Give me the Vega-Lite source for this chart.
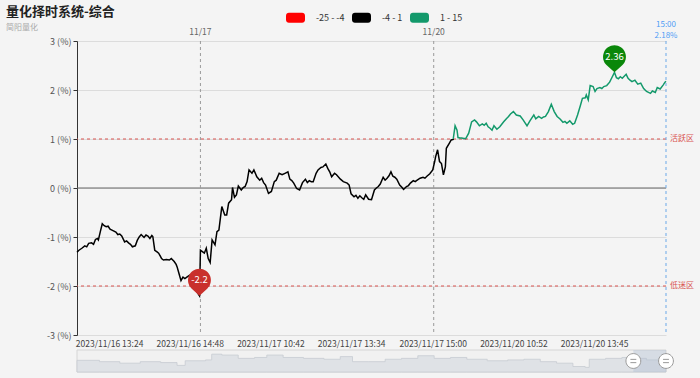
{
  "$schema": "https://vega.github.io/schema/vega-lite/v6.json",
  "width": 589,
  "height": 294,
  "autosize": {"type": "none"},
  "padding": {"left": 77, "top": 41, "right": 34, "bottom": 43},
  "background": "#f4f4f4",
  "title": {
    "text": "量化择时系统-综合",
    "subtitle": "简阳量化",
    "anchor": "start",
    "frame": "group",
    "dx": -71,
    "dy": 28,
    "fontSize": 13,
    "fontWeight": "bold",
    "color": "#222222",
    "subtitleFontSize": 8,
    "subtitleColor": "#aaaaaa",
    "subtitlePadding": 5,
    "offset": 4
  },
  "config": {
    "font": "Noto Sans CJK SC",
    "view": {"stroke": null},
    "legend": {
      "orient": "none",
      "legendX": 209,
      "legendY": -33,
      "direction": "horizontal",
      "symbolType": "M-0.7,-0.525 L0.7,-0.525 A0.3,0.3 0 0 1 1,-0.225 L1,0.225 A0.3,0.3 0 0 1 0.7,0.525 L-0.7,0.525 A0.3,0.3 0 0 1 -1,0.225 L-1,-0.225 A0.3,0.3 0 0 1 -0.7,-0.525 Z",
      "symbolSize": 361,
      "symbolStrokeWidth": 0,
      "symbolOpacity": 1,
      "labelFontSize": 9,
      "labelColor": "#333333",
      "labelOffset": 11,
      "columnPadding": 7,
      "padding": 0
    }
  },
  "layer": [
    {
      "layer": [
        {
          "data": {"values": [{"v": 1, "t": "活跃区"}, {"v": -2, "t": "低迷区"}]},
          "mark": {"type": "rule", "color": "#d9534f", "strokeDash": [3, 3], "strokeWidth": 1},
          "encoding": {
            "y": {"field": "v", "type": "quantitative", "scale": {"domain": [-3, 3], "nice": false, "zero": false},
              "axis": {"values": [-3, -2, -1, 0, 1, 2, 3], "labelExpr": "datum.value + ' (%)'", "title": null, "grid": true, "gridColor": "#dcdcdc", "domainColor": "#333333", "tickColor": "#333333", "tickSize": 4, "labelFontSize": 9, "labelColor": "#555555", "labelPadding": 2}}
          }
        },
        {
          "data": {"values": [{"v": 1, "t": "活跃区"}, {"v": -2, "t": "低迷区"}]},
          "mark": {"type": "text", "color": "#d9534f", "fontSize": 8, "align": "left", "baseline": "middle", "dx": 4},
          "encoding": {
            "x": {"datum": 606, "type": "quantitative"},
            "y": {"field": "v", "type": "quantitative"},
            "text": {"field": "t"}
          }
        },
        {
          "data": {"values": [{"v": 0}]},
          "mark": {"type": "rule", "color": "#666666", "strokeWidth": 1},
          "encoding": {"y": {"field": "v", "type": "quantitative"}}
        },
        {
          "data": {"values": [{"i": 127, "t": "11/17"}, {"i": 367, "t": "11/20"}]},
          "mark": {"type": "rule", "color": "#9a9a9a", "strokeDash": [3, 3], "strokeWidth": 1},
          "encoding": {"x": {"field": "i", "type": "quantitative"}}
        },
        {
          "data": {"values": [{"i": 127, "t": "11/17"}, {"i": 367, "t": "11/20"}]},
          "mark": {"type": "text", "color": "#666666", "fontSize": 8.5, "baseline": "middle", "dy": -9},
          "encoding": {
            "x": {"field": "i", "type": "quantitative"},
            "y": {"datum": 3, "type": "quantitative"},
            "text": {"field": "t"}
          }
        },
        {
          "data": {"values": [{"i": 606, "t": ["15:00", "2.18%"]}]},
          "mark": {"type": "rule", "color": "#6aa8e8", "strokeDash": [3, 3], "strokeWidth": 1},
          "encoding": {"x": {"field": "i", "type": "quantitative"}}
        },
        {
          "data": {"values": [{"i": 606, "t": ["15:00", "2.18%"]}]},
          "mark": {"type": "text", "color": "#4e9cf4", "fontSize": 8, "baseline": "bottom", "lineHeight": 10.5, "dy": -12},
          "encoding": {
            "x": {"field": "i", "type": "quantitative"},
            "y": {"datum": 3, "type": "quantitative"},
            "text": {"field": "t"}
          }
        },
        {
          "data": {"values": [
            {"i":0,"v":-1.31},{"i":2,"v":-1.27},{"i":5,"v":-1.23},{"i":8,"v":-1.18},{"i":10,"v":-1.2},{"i":12,"v":-1.13},{"i":15,"v":-1.12},{"i":17,"v":-1.15},{"i":19,"v":-1.05},{"i":21,"v":-1.03},{"i":22,"v":-1.06},{"i":24,"v":-0.89},{"i":26,"v":-0.73},{"i":28,"v":-0.77},{"i":30,"v":-0.79},{"i":32,"v":-0.78},{"i":34,"v":-0.84},{"i":37,"v":-0.87},{"i":40,"v":-0.9},{"i":42,"v":-0.95},{"i":44,"v":-0.94},{"i":46,"v":-0.98},{"i":49,"v":-1.1},{"i":51,"v":-1.08},{"i":53,"v":-1.12},{"i":55,"v":-1.15},{"i":57,"v":-1.2},{"i":60,"v":-1.18},{"i":62,"v":-1.07},{"i":64,"v":-1.0},{"i":66,"v":-0.95},{"i":68,"v":-0.99},{"i":69,"v":-1.01},{"i":71,"v":-0.96},{"i":73,"v":-0.98},{"i":75,"v":-1.03},{"i":77,"v":-0.97},{"i":78,"v":-0.99},{"i":80,"v":-1.27},{"i":82,"v":-1.3},{"i":84,"v":-1.33},{"i":86,"v":-1.4},{"i":87,"v":-1.44},{"i":89,"v":-1.47},{"i":92,"v":-1.46},{"i":95,"v":-1.47},{"i":97,"v":-1.44},{"i":100,"v":-1.5},{"i":102,"v":-1.56},{"i":103,"v":-1.61},{"i":105,"v":-1.75},{"i":107,"v":-1.89},{"i":109,"v":-1.82},{"i":111,"v":-1.85},{"i":113,"v":-1.82},{"i":116,"v":-1.78},{"i":118,"v":-1.8},{"i":120,"v":-1.84},{"i":122,"v":-2.08},{"i":124,"v":-2.14},{"i":126,"v":-2.2},
            {"i":127,"v":-1.27},{"i":129,"v":-1.3},{"i":131,"v":-1.33},{"i":133,"v":-1.23},{"i":135,"v":-1.44},{"i":137,"v":-1.52},{"i":139,"v":-1.06},{"i":142,"v":-1.16},{"i":144,"v":-0.89},{"i":146,"v":-0.86},{"i":149,"v":-0.38},{"i":152,"v":-0.55},{"i":154,"v":-0.55},{"i":156,"v":-0.31},{"i":159,"v":-0.24},{"i":160,"v":0.01},{"i":162,"v":-0.19},{"i":164,"v":-0.14},{"i":166,"v":0.04},{"i":169,"v":-0.04},{"i":171,"v":0.01},{"i":173,"v":0.03},{"i":175,"v":0.13},{"i":177,"v":0.37},{"i":180,"v":0.3},{"i":182,"v":0.37},{"i":185,"v":0.23},{"i":188,"v":0.16},{"i":190,"v":0.2},{"i":192,"v":0.11},{"i":194,"v":0.06},{"i":197,"v":-0.11},{"i":200,"v":-0.07},{"i":203,"v":0.13},{"i":205,"v":0.16},{"i":208,"v":0.3},{"i":211,"v":0.27},{"i":214,"v":0.3},{"i":217,"v":0.33},{"i":219,"v":0.18},{"i":221,"v":0.15},{"i":223,"v":0.1},{"i":226,"v":-0.01},{"i":229,"v":-0.04},{"i":232,"v":0.11},{"i":235,"v":0.18},{"i":237,"v":0.11},{"i":239,"v":0.15},{"i":241,"v":0.13},{"i":243,"v":0.13},{"i":246,"v":0.3},{"i":248,"v":0.37},{"i":251,"v":0.42},{"i":253,"v":0.43},{"i":256,"v":0.49},{"i":258,"v":0.4},{"i":260,"v":0.33},{"i":262,"v":0.23},{"i":265,"v":0.3},{"i":267,"v":0.27},{"i":271,"v":0.18},{"i":274,"v":0.13},{"i":278,"v":0.1},{"i":280,"v":0.06},{"i":282,"v":-0.12},{"i":285,"v":-0.18},{"i":287,"v":-0.15},{"i":289,"v":-0.21},{"i":291,"v":-0.16},{"i":293,"v":-0.2},{"i":295,"v":-0.23},{"i":297,"v":-0.14},{"i":300,"v":-0.23},{"i":303,"v":-0.24},{"i":306,"v":-0.04},{"i":308,"v":0.0},{"i":310,"v":0.03},{"i":312,"v":0.08},{"i":315,"v":0.22},{"i":317,"v":0.16},{"i":319,"v":0.2},{"i":321,"v":0.25},{"i":323,"v":0.33},{"i":325,"v":0.24},{"i":327,"v":0.22},{"i":329,"v":0.18},{"i":332,"v":0.06},{"i":334,"v":0.02},{"i":336,"v":-0.03},{"i":339,"v":0.03},{"i":341,"v":0.05},{"i":343,"v":0.1},{"i":346,"v":0.15},{"i":348,"v":0.13},{"i":350,"v":0.16},{"i":353,"v":0.2},{"i":356,"v":0.22},{"i":358,"v":0.2},{"i":360,"v":0.24},{"i":363,"v":0.29},{"i":366,"v":0.37},
            {"i":368,"v":0.54},{"i":369,"v":0.64},{"i":371,"v":0.78},{"i":373,"v":0.54},{"i":375,"v":0.5},{"i":377,"v":0.27},{"i":379,"v":0.43},{"i":380,"v":0.81},{"i":383,"v":0.91},{"i":385,"v":0.98},{"i":387,"v":0.99},{"i":389,"v":1.27},{"i":391,"v":1.18},{"i":392,"v":1.03},{"i":394,"v":1.02},{"i":396,"v":1.02},{"i":398,"v":1.01},{"i":400,"v":1.01},{"i":403,"v":1.12},{"i":406,"v":1.35},{"i":409,"v":1.39},{"i":411,"v":1.35},{"i":414,"v":1.27},{"i":417,"v":1.31},{"i":419,"v":1.28},{"i":421,"v":1.32},{"i":423,"v":1.25},{"i":425,"v":1.22},{"i":427,"v":1.18},{"i":429,"v":1.27},{"i":432,"v":1.2},{"i":435,"v":1.25},{"i":437,"v":1.3},{"i":439,"v":1.35},{"i":442,"v":1.42},{"i":444,"v":1.46},{"i":446,"v":1.51},{"i":449,"v":1.56},{"i":452,"v":1.49},{"i":456,"v":1.47},{"i":459,"v":1.39},{"i":461,"v":1.33},{"i":463,"v":1.27},{"i":466,"v":1.37},{"i":468,"v":1.43},{"i":470,"v":1.49},{"i":472,"v":1.41},{"i":475,"v":1.46},{"i":478,"v":1.42},{"i":480,"v":1.45},{"i":482,"v":1.46},{"i":485,"v":1.56},{"i":488,"v":1.71},{"i":491,"v":1.56},{"i":494,"v":1.46},{"i":497,"v":1.41},{"i":500,"v":1.34},{"i":502,"v":1.36},{"i":504,"v":1.32},{"i":507,"v":1.37},{"i":510,"v":1.3},{"i":512,"v":1.32},{"i":515,"v":1.49},{"i":518,"v":1.69},{"i":520,"v":1.83},{"i":523,"v":1.84},{"i":524,"v":1.9},{"i":526,"v":1.8},{"i":528,"v":2.09},{"i":531,"v":2.07},{"i":533,"v":1.97},{"i":535,"v":2.03},{"i":538,"v":2.05},{"i":540,"v":2.03},{"i":542,"v":2.07},{"i":545,"v":2.09},{"i":548,"v":2.16},{"i":550,"v":2.24},{"i":553,"v":2.36},{"i":555,"v":2.25},{"i":557,"v":2.23},{"i":559,"v":2.27},{"i":561,"v":2.24},{"i":563,"v":2.28},{"i":565,"v":2.32},{"i":567,"v":2.24},{"i":569,"v":2.2},{"i":571,"v":2.17},{"i":574,"v":2.2},{"i":577,"v":2.12},{"i":580,"v":2.14},{"i":583,"v":2.03},{"i":586,"v":1.97},{"i":588,"v":1.95},{"i":590,"v":1.93},{"i":592,"v":1.98},{"i":595,"v":1.95},{"i":597,"v":2.05},{"i":600,"v":2.02},{"i":603,"v":2.1},{"i":605,"v":2.16},{"i":606,"v":2.18}
          ]},
          "mark": {
            "type": "line",
            "strokeWidth": 1.5,
            "stroke": {"gradient": "linear", "x1": 0, "y1": 0, "x2": 0, "y2": 1,
              "stops": [{"offset": 0, "color": "#13996b"}, {"offset": 0.2982, "color": "#13996b"}, {"offset": 0.2982, "color": "#000000"}, {"offset": 1, "color": "#000000"}]}
          },
          "encoding": {
            "x": {"field": "i", "type": "quantitative", "scale": {"domain": [0, 606], "nice": false, "zero": false},
              "axis": {"values": [33, 116, 199, 282, 366, 449, 532], "labelExpr": "datum.value==33?'2023/11/16 13:24':datum.value==116?'2023/11/16 14:48':datum.value==199?'2023/11/17 10:42':datum.value==282?'2023/11/17 13:34':datum.value==366?'2023/11/17 15:00':datum.value==449?'2023/11/20 10:52':datum.value==532?'2023/11/20 13:45':''",
                "title": null, "grid": false, "domain": false, "ticks": false, "labelFontSize": 8.5, "labelColor": "#444444", "labelPadding": 4, "labelOverlap": false}},
            "y": {"field": "v", "type": "quantitative"}
          }
        },
        {
          "data": {"values": [{"i": 126, "v": -2.2, "t": "-2.2", "k": "min"}, {"i": 553, "v": 2.36, "t": "2.36", "k": "max"}]},
          "mark": {"type": "point", "filled": true, "opacity": 1, "strokeWidth": 0, "size": 1070,
            "shape": "M0,0 L-0.473,-0.434 A0.7,0.7 0 1 1 0.473,-0.434 Z"},
          "encoding": {
            "x": {"field": "i", "type": "quantitative"},
            "y": {"field": "v", "type": "quantitative"},
            "fill": {"field": "k", "type": "nominal", "scale": {"domain": ["min", "max"], "range": ["#c9302c", "#0a870a"]}, "legend": null}
          }
        },
        {
          "data": {"values": [{"i": 126, "v": -2.2, "t": "-2.2"}, {"i": 553, "v": 2.36, "t": "2.36"}]},
          "mark": {"type": "text", "color": "#ffffff", "fontSize": 9.5, "baseline": "middle", "dy": -15.5},
          "encoding": {
            "x": {"field": "i", "type": "quantitative"},
            "y": {"field": "v", "type": "quantitative"},
            "text": {"field": "t"}
          }
        },
        {
          "data": {"values": [{"r": "-25 - -4"}, {"r": "-4 - 1"}, {"r": "1 - 15"}]},
          "transform": [{"filter": "datum.r == 'none'"}],
          "mark": {"type": "point", "filled": true, "opacity": 1},
          "encoding": {
            "color": {"field": "r", "type": "nominal", "title": null,
              "scale": {"domain": ["-25 - -4", "-4 - 1", "1 - 15"], "range": ["#ff0000", "#000000", "#13996b"]}}
          }
        }
      ]
    },
    {
      "layer": [
        {
          "data": {"values": [{"s": 45, "h": 0}]},
          "mark": {"type": "rect", "fill": "#eeeeee", "fillOpacity": 0.5, "stroke": "#d6d6d6", "strokeWidth": 1},
          "encoding": {
            "x": {"datum": 45, "type": "quantitative", "scale": {"domain": [45, 1488], "nice": false, "zero": false}, "axis": null},
            "x2": {"datum": 1488},
            "y": {"datum": 0, "type": "quantitative", "scale": {"domain": [0, 10], "range": [331, 309], "nice": false, "zero": false}, "axis": null},
            "y2": {"datum": 10}
          }
        },
        {
          "data": {"values": [
            {"s":45,"h":5.3},{"s":100,"h":4.7},{"s":150,"h":4.0},{"s":200,"h":4.7},{"s":250,"h":4.3},{"s":290,"h":3.0},{"s":310,"h":5.1},{"s":360,"h":5.5},{"s":375,"h":8.1},{"s":400,"h":7.7},{"s":440,"h":6.2},{"s":480,"h":6.6},{"s":510,"h":7.7},{"s":550,"h":6.6},{"s":600,"h":6.2},{"s":650,"h":5.8},{"s":690,"h":7.0},{"s":720,"h":4.7},{"s":760,"h":4.7},{"s":800,"h":5.8},{"s":840,"h":6.2},{"s":880,"h":7.4},{"s":920,"h":6.2},{"s":960,"h":6.6},{"s":1000,"h":5.8},{"s":1050,"h":5.1},{"s":1100,"h":5.5},{"s":1140,"h":5.8},{"s":1180,"h":4.7},{"s":1220,"h":4.0},{"s":1260,"h":2.5},{"s":1290,"h":2.1},{"s":1300,"h":5.8},{"s":1340,"h":6.2},{"s":1380,"h":6.6},{"s":1410,"h":6.2},{"s":1440,"h":5.5},{"s":1470,"h":6.2},{"s":1488,"h":6.6}
          ]},
          "mark": {"type": "area", "fill": "#dfe2e6", "stroke": "#c6cbd2", "strokeWidth": 0.8, "interpolate": "step-after"},
          "encoding": {
            "x": {"field": "s", "type": "quantitative", "axis": null},
            "y": {"field": "h", "type": "quantitative", "axis": null}
          }
        },
        {
          "data": {"values": [{"a": 1408, "b": 1488}]},
          "mark": {"type": "rect", "fill": "#aebed3", "opacity": 0.4},
          "encoding": {
            "x": {"field": "a", "type": "quantitative", "axis": null},
            "x2": {"field": "b"},
            "y": {"datum": 0, "type": "quantitative", "axis": null},
            "y2": {"datum": 10}
          }
        },
        {
          "data": {"values": [{"s": 1408, "h": 5}, {"s": 1488, "h": 5}]},
          "mark": {"type": "point", "filled": false, "fill": "#ffffff", "fillOpacity": 1, "opacity": 1, "stroke": "#9a9a9a", "strokeWidth": 1, "size": 220,
            "shape": "M-1,0 A1,1 0 1 1 1,0 A1,1 0 1 1 -1,0 Z M-0.4,-0.22 L0.4,-0.22 M-0.4,0.22 L0.4,0.22"},
          "encoding": {
            "x": {"field": "s", "type": "quantitative", "axis": null},
            "y": {"field": "h", "type": "quantitative", "axis": null}
          }
        }
      ]
    }
  ],
  "resolve": {"scale": {"x": "independent", "y": "independent"}}
}
